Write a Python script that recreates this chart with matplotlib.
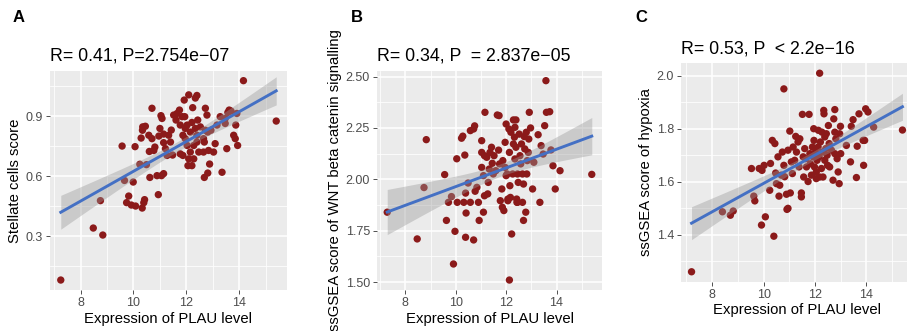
import numpy as np
import matplotlib
matplotlib.use("Agg")
import matplotlib.pyplot as plt
from matplotlib.ticker import MultipleLocator, FormatStrFormatter

plt.rcParams['font.family'] = ['Liberation Sans', 'DejaVu Sans']

#===============================
# Data
#===============================

# Panel A: Stellate cells score vs PLAU
a_x = [7.25, 8.48, 8.84, 8.75, 9.57, 10.06, 9.66, 9.99, 9.82, 9.74,
       9.92, 10.08, 10.33, 10.39, 10.42, 10.94, 10.24, 10.49, 10.62, 10.89,
       11.06, 11.14, 10.35, 10.45, 10.34, 10.70, 10.29, 10.58, 10.70, 10.77,
       10.60, 10.81, 11.00, 11.04, 11.08, 10.96, 11.14, 11.14, 11.21, 11.27,
       11.48, 11.40, 11.33, 11.43, 11.52, 11.65, 11.74, 11.61, 11.84, 11.77,
       11.92, 12.09, 12.40, 12.34, 12.24, 11.94, 11.96, 11.96, 11.87, 11.77,
       11.87, 12.06, 12.21, 12.09, 12.28, 12.15, 12.28, 12.03, 12.40, 12.40,
       12.15, 12.34, 12.53, 12.43, 12.47, 12.03, 12.21, 12.65, 12.68, 12.72,
       12.81, 12.65, 12.68, 12.81, 12.88, 13.03, 13.09, 12.84, 12.93, 12.72,
       12.78, 13.16, 13.28, 13.35, 13.47, 13.57, 13.62, 13.69, 13.53, 13.47,
       13.79, 13.85, 13.94, 13.87, 13.91, 14.16, 15.40]
a_y = [0.080, 0.340, 0.305, 0.477, 0.750, 0.747, 0.578, 0.570, 0.500, 0.467,
       0.455, 0.450, 0.440, 0.467, 0.482, 0.507, 0.659, 0.657, 0.593, 0.602,
       0.602, 0.612, 0.846, 0.849, 0.829, 0.939, 0.790, 0.804, 0.787, 0.728,
       0.723, 0.745, 0.838, 0.902, 0.888, 0.800, 0.810, 0.767, 0.737, 0.703,
       0.705, 0.770, 0.804, 0.830, 0.905, 0.913, 0.930, 0.880, 0.897, 0.855,
       0.980, 1.006, 1.003, 0.990, 0.942, 0.897, 0.838, 0.787, 0.804, 0.711,
       0.703, 0.652, 0.652, 0.686, 0.686, 0.720, 0.753, 0.753, 0.770, 0.804,
       0.820, 0.838, 0.846, 0.880, 0.720, 0.855, 0.868, 0.787, 0.770, 0.829,
       0.820, 0.720, 0.593, 0.615, 0.660, 0.720, 0.762, 0.728, 0.829, 0.939,
       0.905, 0.855, 0.897, 0.619, 0.888, 0.918, 0.930, 0.925, 0.737, 0.863,
       0.804, 0.787, 0.753, 0.855, 0.913, 1.077, 0.875]

# Panel B: WNT beta catenin signalling vs PLAU
b_x = [7.28, 8.47, 8.83, 8.74, 9.56, 9.63, 9.91, 9.97, 10.04, 10.06,
       9.71, 9.83, 10.23, 10.28, 10.36, 10.32, 10.39, 10.41, 10.39, 10.49,
       10.58, 10.58, 10.71, 10.75, 10.71, 10.77, 10.84, 10.90, 10.93, 11.03,
       11.03, 11.03, 11.10, 11.14, 11.10, 11.16, 11.14, 11.23, 11.27, 11.29,
       11.33, 11.36, 11.42, 11.45, 11.49, 11.52, 11.59, 11.65, 11.72, 11.70,
       11.74, 11.77, 11.83, 11.85, 11.87, 11.91, 11.96, 11.96, 12.00, 12.00,
       12.04, 12.07, 12.07, 12.11, 12.13, 12.15, 12.13, 12.17, 12.19, 12.22,
       12.26, 12.29, 12.29, 12.33, 12.35, 12.35, 12.39, 12.39, 12.42, 12.43,
       12.45, 12.45, 12.48, 12.52, 12.55, 12.61, 12.58, 12.65, 12.65, 12.69,
       12.69, 12.72, 12.74, 12.78, 12.80, 12.82, 12.84, 12.88, 12.90, 12.92,
       12.97, 13.05, 13.10, 13.27, 13.34, 13.39, 13.47, 13.53, 13.58, 13.60,
       13.73, 13.78, 13.86, 13.95, 14.14, 15.40]
b_y = [1.840, 1.710, 2.193, 1.960, 2.023, 1.800, 1.588, 1.747, 2.100, 1.888,
       1.888, 1.916, 2.200, 2.210, 2.118, 1.888, 1.933, 1.836, 1.718, 1.982,
       2.237, 1.888, 1.705, 2.260, 2.245, 1.942, 1.961, 1.888, 1.800, 2.131,
       2.188, 2.058, 2.018, 1.920, 1.840, 2.326, 2.115, 2.107, 1.929, 1.985,
       2.050, 2.131, 2.156, 2.078, 2.026, 2.115, 2.042, 2.313, 2.310, 2.142,
       2.075, 1.896, 1.953, 1.864, 2.091, 1.848, 2.180, 2.058, 2.269, 2.018,
       2.026, 1.904, 1.896, 2.245, 2.131, 1.969, 1.510, 1.912, 2.229, 1.734,
       2.026, 2.172, 2.289, 2.205, 2.253, 2.099, 2.289, 2.156, 1.904, 1.888,
       2.026, 1.888, 1.985, 2.220, 2.115, 2.172, 2.075, 1.888, 2.026, 1.977,
       1.800, 2.208, 2.148, 1.840, 2.229, 2.026, 2.091, 2.131, 2.196, 2.326,
       2.250, 1.953, 2.083, 2.217, 1.888, 2.164, 2.123, 2.261, 2.480, 2.326,
       2.329, 2.143, 2.066, 1.953, 2.042, 2.024]

# Panel C: hypoxia vs PLAU
c_x = [7.20, 8.40, 8.71, 8.82, 9.53, 9.62, 9.66, 9.83, 9.94, 9.92,
       10.02, 10.07, 10.24, 10.27, 10.34, 10.40, 10.44, 10.47, 10.50, 10.56,
       10.60, 10.63, 10.69, 10.73, 10.79, 10.79, 10.82, 10.89, 10.91, 10.95,
       10.95, 11.02, 11.04, 11.08, 11.12, 11.15, 11.21, 11.25, 11.28, 11.34,
       11.38, 11.41, 11.47, 11.47, 11.51, 11.54, 11.56, 11.60, 11.64, 11.67,
       11.73, 11.77, 11.80, 11.82, 11.86, 11.90, 11.92, 11.95, 11.96, 11.98,
       12.02, 12.05, 12.05, 12.08, 12.12, 12.13, 12.18, 12.16, 12.18, 12.21,
       12.25, 12.27, 12.29, 12.31, 12.34, 12.35, 12.38, 12.38, 12.42, 12.44,
       12.47, 12.49, 12.52, 12.55, 12.57, 12.64, 12.70, 12.73, 12.77, 12.77,
       12.77, 12.81, 12.86, 12.90, 12.94, 12.96, 12.99, 13.00, 13.22, 13.38,
       13.41, 13.48, 13.61, 13.64, 13.71, 13.87, 13.89, 13.93, 13.97, 14.06,
       14.28, 15.40]
c_y = [1.261, 1.487, 1.474, 1.490, 1.650, 1.546, 1.528, 1.650, 1.643, 1.437,
       1.662, 1.468, 1.568, 1.669, 1.756, 1.395, 1.744, 1.633, 1.593, 1.694,
       1.546, 1.587, 1.625, 1.712, 1.950, 1.662, 1.619, 1.553, 1.496, 1.500,
       1.719, 1.791, 1.558, 1.675, 1.631, 1.731, 1.681, 1.771, 1.712, 1.750,
       1.656, 1.762, 1.558, 1.543, 1.854, 1.694, 1.618, 1.725, 1.687, 1.656,
       1.601, 1.854, 1.706, 1.668, 1.625, 1.731, 1.694, 1.800, 1.756, 1.656,
       1.712, 1.637, 1.612, 1.681, 1.731, 1.794, 2.009, 1.694, 1.618, 1.750,
       1.650, 1.787, 1.712, 1.618, 1.869, 1.856, 1.681, 1.769, 1.725, 1.781,
       1.700, 1.662, 1.812, 1.744, 1.656, 1.719, 1.606, 1.837, 1.872, 1.787,
       1.706, 1.762, 1.687, 1.637, 1.593, 1.781, 1.809, 1.706, 1.737, 1.675,
       1.809, 1.834, 1.616, 1.734, 1.856, 1.756, 1.662, 1.756, 1.875, 1.863,
       1.806, 1.795]

letters = ["A", "B", "C"]
titles = ["R= 0.41, P=2.754e\u221207",
          "R= 0.34, P  = 2.837e\u221205",
          "R= 0.53, P  < 2.2e\u221216"]
ylabels = ["Stellate cells score",
           "ssGSEA score of WNT beta catenin signalling",
           "ssGSEA score of hypoxia"]
xlabel = "Expression of PLAU level"
y_major = [0.3, 0.25, 0.2]

#===============================
# Plot
#===============================

W, H = 907, 331
fig = plt.figure(figsize=(W / 100, H / 100), dpi=100)

# axes boxes in pixels: left, top, right, bottom (panel C runs past the edge)
boxes = [(50, 70.7, 287, 290), (377, 70.7, 602, 290), (681, 63.3, 913, 281.7)]
letter_pos = [(19, 18), (357, 18), (641, 18)]

point_col = "#8B1A1A"
line_col = "#4470C4"
t_val = 1.98


def panel(ax, x, y, ymaj):
    x = np.array(x)
    y = np.array(y)
    ax.set_facecolor("#EBEBEB")
    for s in ax.spines.values():
        s.set_visible(False)

    ax.scatter(x, y, s=28, color=point_col, edgecolors="none", zorder=3)

    # linear fit + 95% confidence band (like geom_smooth(method="lm"))
    slope, inter = np.polyfit(x, y, 1)
    xs = np.linspace(x.min(), x.max(), 100)
    ys = inter + slope * xs
    resid = y - (inter + slope * x)
    n = len(x)
    s_err = np.sqrt(np.sum(resid ** 2) / (n - 2))
    se = s_err * np.sqrt(1 / n + (xs - x.mean()) ** 2 / np.sum((x - x.mean()) ** 2))
    ax.fill_between(xs, ys - t_val * se, ys + t_val * se, color="#999999", alpha=0.4,
                    linewidth=0, zorder=4)
    ax.plot(xs, ys, color=line_col, lw=2.1, zorder=5)

    xr = x.max() - x.min()
    yr = y.max() - y.min()
    ax.set_xlim(x.min() - 0.05 * xr, x.max() + 0.05 * xr)
    ax.set_ylim(y.min() - 0.05 * yr, y.max() + 0.05 * yr)

    ax.xaxis.set_major_locator(MultipleLocator(2))
    ax.xaxis.set_minor_locator(MultipleLocator(1))
    ax.yaxis.set_major_locator(MultipleLocator(ymaj))
    ax.yaxis.set_minor_locator(MultipleLocator(ymaj / 2))
    ax.grid(which="major", color="white", lw=1.1, zorder=0)
    ax.grid(which="minor", color="white", lw=0.55, zorder=0)
    ax.set_axisbelow(True)
    ax.tick_params(which="major", length=3, width=0.6, color="#333333",
                   labelcolor="#4D4D4D", labelsize=9, pad=2)
    ax.tick_params(which="minor", length=0)


datasets = [(a_x, a_y), (b_x, b_y), (c_x, c_y)]
for i in range(3):
    l, t, r, b = boxes[i]
    ax = fig.add_axes([l / W, 1 - b / H, (r - l) / W, (b - t) / H])
    panel(ax, datasets[i][0], datasets[i][1], y_major[i])
    if i == 1:
        ax.yaxis.set_major_formatter(FormatStrFormatter("%.2f"))
    ax.set_title(titles[i], loc="left", fontsize=12.8, pad=7)
    ax.set_xlabel(xlabel, fontsize=10.7, labelpad=2)
    ax.set_ylabel(ylabels[i], fontsize=10.7, labelpad=3)
    fig.text(letter_pos[i][0] / W, 1 - letter_pos[i][1] / H, letters[i],
             fontsize=12, fontweight="bold", ha="center", va="center")

fig.savefig("out.png", dpi=100)
